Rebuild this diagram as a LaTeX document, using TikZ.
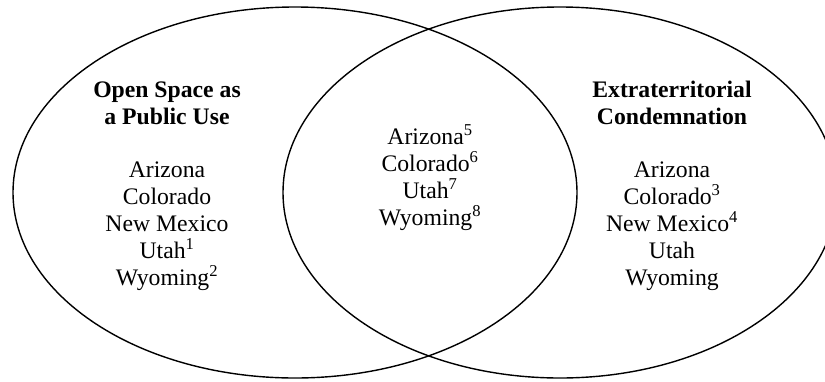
\documentclass[tikz,border=0pt]{standalone}
\usepackage{fontspec}
\setmainfont{Liberation Serif}
\begin{document}
\begin{tikzpicture}[x=1pt,y=-1pt,
  ring/.style={line width=1.4pt},
  txt/.style={anchor=base, inner sep=0pt, font=\fontsize{23.7}{27}\selectfont}]
\useasboundingbox (0,0) rectangle (825,381);
\begin{scope}
  \clip (0,0) rectangle (825,381);
  \draw[ring] (295,192.5) ellipse [x radius=282, y radius=185.5];
  \draw[ring] (560,192.5) ellipse [x radius=277, y radius=185.5];
\end{scope}
% left set
\node[txt] (l1) at (167,97.5)  {\textbf{Open Space as}};
\node[txt] (l2) at (167,124.3) {\textbf{a Public Use}};
\node[txt] (l3) at (167,177.9) {Arizona};
\node[txt] (l4) at (167,204.7) {Colorado};
\node[txt] (l5) at (167,231.5) {New Mexico};
\node[txt] (l6) at (167,258.3) {Utah\textsuperscript{1}};
\node[txt] (l7) at (167,285.1) {Wyoming\textsuperscript{2}};
% intersection
\node[txt] (m1) at (430,144.5) {Arizona\textsuperscript{5}};
\node[txt] (m2) at (430,171.5) {Colorado\textsuperscript{6}};
\node[txt] (m3) at (430,198.5) {Utah\textsuperscript{7}};
\node[txt] (m4) at (430,225.5) {Wyoming\textsuperscript{8}};
% right set
\node[txt] (r1) at (672,97.5)  {\textbf{Extraterritorial}};
\node[txt] (r2) at (672,124.3) {\textbf{Condemnation}};
\node[txt] (r3) at (672,177.9) {Arizona};
\node[txt] (r4) at (672,204.7) {Colorado\textsuperscript{3}};
\node[txt] (r5) at (672,231.5) {New Mexico\textsuperscript{4}};
\node[txt] (r6) at (672,258.3) {Utah};
\node[txt] (r7) at (672,285.1) {Wyoming};
\end{tikzpicture}
\end{document}
